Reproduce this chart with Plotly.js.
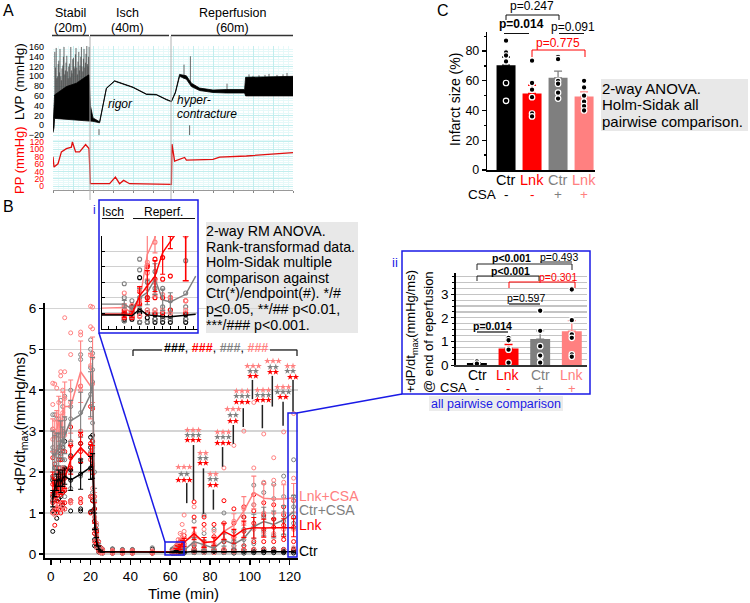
<!DOCTYPE html>
<html><head><meta charset="utf-8">
<script src="https://cdn.plot.ly/plotly-3.0.1.min.js"></script>
<style>html,body{margin:0;padding:0;background:#fff}#c{width:750px;height:603px}</style>
</head><body><div id="c"></div>
<script>
// ---------- Panel A ----------
const lvpT=[0,.5,.8,6.7,11.7,16.7,18,18.7,20,23.3,24,26.7,30.8,35,40,46.7,51.7,56.7,59.2,61.2,63.3,66.7,69.2,73.3,80,86.7,95.8,96.3,120];
const lvpLow=[-15,-5,14,12,10,9,9,9,8,5,20,75,90,84,77,63,62,52,48,66,100,94,79,71,67,66,66,60,60];
const lvpHigh=[-5,30,62,79,86,100,103,40,15,7,21,76,91,85,78,64,63,53,49,68,104,101,86,76,72,73,73,98,100];
const spikeT=[.9,1.3,1.6,1.9,2.2,2.6,2.9,3.2,3.5,3.9,4.2,4.5,4.9,5.2,5.5,5.9,6.2,6.5,6.9,7.2,7.6,7.9,8.2,8.6,8.9,9.2,9.5,9.9,10.2,10.5,10.9,11.2,11.5,11.9,12.2,12.5,12.9,13.2,13.5,13.9,14.2,14.5,14.9,15.2,15.5,15.9,16.2,16.5,16.9,17.2,17.5,17.8,18.1,65.5,68.7,87,98,100,103,106,108,112,115,117];
const spikeTop=[150,118,158,96,100,125,132,108,156,100,92,116,122,140,160,104,112,128,142,110,96,120,126,98,160,112,106,135,138,120,116,145,158,118,104,130,150,112,122,140,160,120,110,136,156,118,128,146,162,125,120,140,160,124,141,85,104,101,102,103,105,103,104,107];
const spikeBase=[60,60,60,60,60,60,60,60,60,60,60,60,60,60,60,60,60,60,60,60,60,60,60,60,60,60,60,60,60,60,60,60,60,60,60,60,60,60,60,60,60,60,60,60,60,60,60,60,60,60,60,60,60,95,85,70,90,90,90,90,90,90,90,90];
const dipT=[23,68.3];const dipLow=[-20,-20];const dipHigh=[-8,0];
const ppT=[0,.5,2.5,4.2,6.7,9.2,9.7,11.3,13.3,16.3,18,18.7,28.3,31.2,33.3,35.3,38.3,59.2,59.5,60.8,65.8,66.7,80,83.3,96.7,120];
const ppVal=[80,52,61,93,102,106,120,93,93,113,102,7,7,25,7,16,7,5,114,68,78,71,73,79,82,91];

// ---------- Panel B ----------
const T=[1,2,3,4,5,6,7,10,15,20,21,22,23,24,25,26,31,36,41,51,61,62,63,64,65,66,67,72,77,82,87,92,97,102,107,112,117,122];
const meanCtr=[1.35,1.6,1.75,1.85,1.75,1.85,1.9,1.8,1.95,2.1,2.15,.8,.3,.15,.07,.05,.05,.05,.05,.05,.04,.04,.06,.04,.04,.04,.04,.06,.05,.05,.05,.05,.05,.05,.06,.06,.05,.05];
const meanLnk=[1.75,1.6,1.6,1.75,1.7,1.8,1.85,2.3,2.6,2.35,2.3,1,.4,.15,.07,.05,.05,.05,.05,.05,.05,.05,.1,.14,.17,.25,.28,.5,.28,.3,.55,.43,.6,.64,.63,.64,.64,.64];
const meanCtrC=[2.45,2.4,2.5,2.55,2.8,2.7,2.9,3.25,3.4,3.9,4.2,1.3,.5,.2,.08,.05,.05,.05,.05,.05,.06,.06,.1,.12,.16,.09,.09,.3,.22,.14,.34,.24,.38,.67,.79,.72,.83,1.03];
const meanLnkC=[2.9,2.8,3,3.3,2.9,3.4,3.6,3.6,4.45,4.1,4.5,1.2,.5,.2,.08,.05,.05,.05,.05,.05,.05,.06,.09,.24,.3,.4,.3,.45,.28,.3,.55,.7,1.05,1.5,1.36,1.34,1.34,1.37];
const errCtr=[.2,.2,.2,.2,.25,.2,.2,.25,.37,.28,.3,.2,.1,.04,.02,.01,.01,.01,.01,.01,.01,.01,.02,.01,.01,.01,.01,.01,.01,.01,.01,.01,.01,.02,.02,.02,.02,.02];
const errLnk=[.25,.22,.2,.25,.25,.25,.25,.35,.37,.32,.35,.25,.12,.05,.02,.01,.01,.01,.01,.01,.01,.01,.03,.05,.06,.08,.1,.15,.12,.1,.2,.17,.2,.25,.22,.22,.22,.22];
const errCtrC=[.55,.5,.45,.4,.45,.4,.45,.5,.55,.55,.6,.3,.12,.05,.02,.01,.01,.01,.01,.01,.01,.02,.03,.03,.04,.03,.03,.1,.12,.06,.15,.1,.18,.3,.35,.33,.35,.4];
const errLnkC=[.4,.45,.5,.55,.5,.55,.6,.65,.75,.8,.8,.3,.12,.05,.02,.01,.01,.01,.01,.01,.01,.02,.03,.06,.08,.1,.1,.18,.12,.12,.2,.28,.35,.4,.35,.35,.35,.35];
const ptsCtr=[[1.8,1.4,1.3,1.05,.55],[2.1,1.85,1.5,1.3,1.0],[2.5,2.0,1.8,1.3,.87],[2.6,2.1,1.85,1.6,1.35],[2.45,2.0,1.7,1.4,1.15],[2.6,2.1,1.75,1.5,1.2],[2.75,2.1,1.9,1.55,1.1],[2.4,2.05,1.8,1.3,1.05],[2.7,2.25,1.95,1.1,1.05],[2.85,2.6,2.1,1.4,1.03],[2.9,2.75,2.15,1.3,1.05],[1.1,.8,.6,.35,.2],[.55,.35,.25,.2,.15],[.3,.15,.1,.05],[.15,.07,.03],[.1,.05,.02],[.12,.05,.02],[.1,.05,.02],[.1,.05,.02],[.12,.05,.02],[.1,.04,.02],[.09,.05,.02],[.12,.05,.02],[.1,.05,.02],[.09,.04,.02],[.08,.04,.02],[.08,.04,.02],[.12,.08,.05,.03],[.1,.06,.03],[.11,.05,.03],[.1,.06,.03],[.1,.05,.02],[.1,.05,.02],[.11,.06,.03],[.12,.07,.03],[.12,.07,.03],[.11,.06,.03],[.12,.07,.02]];
const ptsLnk=[[2.35,1.9,1.7,1.45,1.25,1.0],[2.2,1.75,1.55,1.3,1.1,.7],[2.1,1.7,1.55,1.3,1.1,1.0],[2.3,1.9,1.75,1.5,1.2,1.1],[2.3,1.8,1.6,1.45,1.25,1.0],[2.5,1.9,1.8,1.5,1.25,1.1],[2.5,2.0,1.85,1.55,1.25,1.1],[3.1,2.65,2.35,2.1,1.3,1.25],[4.1,2.9,2.7,2.5,1.35,1.25],[3.6,2.7,2.45,2.3,1.4,1.0],[3.55,2.75,2.4,2.2,1.4,1.3],[1.4,1.1,.8,.5,.3],[.6,.4,.3,.2],[.3,.15,.08],[.15,.07,.03],[.1,.05,.03],[.08,.05,.02],[.08,.05,.02],[.08,.05,.02],[.07,.04,.02],[.06,.05,.03],[.07,.05,.03],[.16,.1,.05],[.24,.14,.05],[.3,.18,.07],[.32,.2,.1],[.45,.25,.1],[1.27,.9,.45,.2,.1],[.9,.72,.3,.15],[.72,.42,.2,.08],[1.3,.75,.3,.1],[1.1,.75,.4,.1],[1.15,.9,.55,.2,.1],[1.45,1.05,.75,.3,.1],[1.25,.95,.6,.3,.1],[1.2,.85,.65,.3,.1],[1.15,.95,.7,.35,.1],[1.3,.9,.65,.3,.1]];
const ptsCtrC=[[3.4,3.05,2.6,2.5,1.85,1.3],[3.4,3.0,2.45,2.1,1.75,1.35],[3.3,2.9,2.4,2.0,1.8,1.5],[3.3,2.9,2.6,2.1,1.75,1.55],[3.75,2.95,2.8,2.3,2.0,1.55],[3.6,3.0,2.7,2.3,1.9,1.6],[3.85,3.3,2.95,2.3,1.9,1.4],[4.0,3.6,3.3,2.7,2.1,1.6],[4.87,4.75,3.45,3.0,2.3,1.9],[5.23,5.0,4.55,3.9,2.5,1.4],[4.9,4.5,4.2,3.2,2.6,1.5],[2.0,1.3,.9,.5,.3],[.7,.45,.3,.2],[.3,.18,.1],[.15,.08,.03],[.12,.06,.02],[.12,.05,.02],[.11,.05,.02],[.11,.05,.02],[.15,.05,.02],[.12,.05,.02],[.15,.06,.02],[.2,.1,.03],[.22,.12,.03],[.28,.15,.03],[.17,.09,.03],[.13,.08,.03],[.8,.4,.25,.1,.03],[.95,.5,.2,.08,.03],[.6,.2,.1,.03],[1.0,.75,.3,.08,.03],[.55,.3,.2,.08,.03],[.9,.6,.35,.1,.03],[1.68,1.2,.65,.25,.05],[1.73,1.5,.9,.55,.1],[1.7,1.35,.85,.45,.08],[1.9,1.4,.8,.45,.1],[2.3,1.4,1.15,.75,.1]];
const ptsLnkC=[[4.17,3.65,3.05,2.8,1.35,1.0],[4.15,3.0,2.45,1.75,1.2,.95],[4.05,3.4,2.5,1.8,1.4,1.15],[3.7,3.2,2.6,1.95,1.5,1.2],[4.45,4.35,3.0,2.1,1.55,1.1],[4.0,3.45,2.9,2.1,1.6,1.15],[5.77,4.45,3.8,2.9,1.6,1.1],[5.4,4.87,3.7,2.75,1.3,1.25],[5.42,5.35,4.1,4.0,3.0,1.3],[6.05,5.55,4.85,4.6,2.3,1.4],[6.03,5.5,4.8,4.15,2.6,1.6],[1.4,.9,.6,.3],[.75,.5,.3,.15],[.3,.15,.06],[.14,.07,.03],[.1,.05,.02],[.08,.05,.02],[.08,.05,.02],[.08,.05,.02],[.07,.05,.02],[.06,.05,.03],[.1,.06,.03],[.2,.1,.04],[.35,.25,.1],[.5,.32,.1],[.72,.4,.12],[.95,.55,.2,.08],[1.15,.5,.25,.1,.05],[.6,.25,.1,.04],[.55,.25,.1,.03],[2.1,.75,.35,.12,.05],[2.65,.8,.4,.2,.05],[3.0,1.1,.75,.4,.1],[3.7,2.1,1.2,.6,.12],[2.93,1.75,1.0,.5,.1],[2.35,1.8,1.0,.5,.1],[2.98,1.75,1.0,.6,.1],[3.43,1.85,1.3,.6,.15]];
const sigT=[68.3,71.7,76.7,81.7,86.3,91.7,96.7,101.3,106.3,111.3,116.7,121.7];
const sigLo=[1.24,1.32,.98,1.08,2.13,2.69,3.1,3.78,3.07,3.6,3.13,3.48];
const sigHi=[1.73,2.66,2.09,1.57,2.61,3.15,3.56,4.25,3.64,4.35,3.72,4.25];

// ---------- Inset i ----------
const iT=[58,61,62,63,64,65,66,67,69,70.3];
const iCtr=[.044,.044,.041,.063,.044,.041,.039,.038,.043,.046];
const iCtrC=[.079,.079,.063,.1,.117,.16,.093,.086,.111,.17];
const iLnk=[.046,.046,.046,.106,.138,.17,.246,.279,.35,.4];
const iLnkC=[.066,.068,.049,.09,.24,.295,.42,.5,.6,.7];
const iErrT=[61,62,63,64,65,66,67];
const iErrCtrC=[.012,.01,.03,.04,.05,.035,.03];
const iErrLnk=[.01,.01,.03,.05,.05,.07,.02];
const iErrLnkC=[.012,.01,.03,.08,.05,.08,.03];
const iLastT=[69];const iLastLnk=[.228];const iLastErr=[.073];
const iPtT=[61,62,63,64,65,66,67,69];
const iPtCtr=[[.025,.03,.045,.05],[.03,.04,.05,.07],[.02,.05,.06,.165],[.02,.035,.05],[.02,.03,.045],[.02,.03,.04],[.02,.03,.04],[.02,.03,.045]];
const iPtCtrC=[[.025,.05,.075,.1,.145],[.035,.05,.06,.09],[.02,.1,.19,.225],[.02,.06,.1,.15],[.03,.06,.13,.185],[.03,.07,.13],[.03,.06,.09],[.03,.07,.115,.22]];
const iPtLnk=[[.035,.05,.06],[.035,.05,.07],[.04,.08,.12],[.05,.1,.2,.205],[.05,.1,.16,.225],[.05,.1,.16,.23],[.06,.1,.17],[.05,.09]];
const iPtLnkC=[[.04,.07,.115],[.04,.055,.075],[.04,.09,.13],[.06,.13,.18,.215],[.06,.11,.15,.28],[.06,.11],[.05,.1],[.06,.09,.3]];

// ---------- Panel ii ----------
const iiVal=[.08,.7,1.1,1.43];
const iiErr=[.02,.17,.35,.45];
const iiPts=[[.05,.08,.1,.15,.06],[1.15,1.05,.7,.65,.1],[2.3,1.45,.8,.35,.1,.4],[3.2,1.9,1.3,1.15,.45,.35]];

// ---------- Panel C ----------
const cVal=[70.5,51.5,62,49.5];
const cErr=[5.5,5.5,4.5,3];
const cPts=[[87,79,77,73,58.5,46.5],[73.5,58.5,54,49,38,36],[76,74.5,60,58,52,48],[60,55.5,50,46,43,40]];

// ---------- Labels ----------
const groupNames=['Ctr','Lnk','Ctr','Lnk'];
const csaSigns=['-','-','+','+'];
const boxB=['2-way RM ANOVA.','Rank-transformad data.','Holm-Sidak multiple','comparison against','Ctr(*)/endpoint(#). */#','p<u>&lt;</u>0.05, **/## p&lt;0.01,','***/### p&lt;0.001.'];
const boxC=['2-way ANOVA.','Holm-Sidak all','pairwise comparison.'];

// ---------- Style & layout helpers ----------
const W=750,H=603,FONT='"Liberation Sans", Arial, sans-serif';
const BLK='#000000',RED='#ff0000',GRY='#7f7f7f',LRD='#ff8080',BLU='#1a1ae6';
const colors=[BLK,RED,GRY,LRD];
const xd=(a,b)=>[a/W,b/W], yd=(t,b)=>[1-b/H,1-t/H];
const ann=[],shp=[],tr=[];
function txt(x,y,text,o={}){ann.push({xref:'paper',yref:'paper',x:x/W,y:1-y/H,text:text,showarrow:false,borderpad:0,borderwidth:0,xanchor:o.anchor||'center',yanchor:'middle',textangle:o.angle||0,align:o.anchor||'center',font:{family:FONT,size:o.size||12,color:o.color||BLK}});}
function seg(x0,y0,x1,y1,color,w){shp.push({type:'line',xref:'paper',yref:'paper',x0:x0/W,y0:1-y0/H,x1:x1/W,y1:1-y1/H,line:{color:color||BLK,width:w||1}});}
function rect(x0,y0,x1,y1,line,fill,w,layer){shp.push({type:'rect',xref:'paper',yref:'paper',x0:x0/W,y0:1-y0/H,x1:x1/W,y1:1-y1/H,line:{color:line||'rgba(0,0,0,0)',width:line?(w||1):0},fillcolor:fill||'rgba(0,0,0,0)',layer:layer||'above'});}
function bracket(x0,x1,y,drop,color,w){seg(x0,y,x1,y,color,w);seg(x0,y,x0,y+drop,color,w);seg(x1,y,x1,y+drop,color,w);}
function flat(ts,lists){const x=[],y=[];ts.forEach((t,i)=>lists[i].forEach(v=>{x.push(t);y.push(v);}));return{x,y};}
function gaps(xs,lo,hi){const x=[],y=[];xs.forEach((t,i)=>{x.push(t,t,null);y.push(lo[i],hi[i],null);});return{x,y};}
const axisFont=(s,c)=>({family:FONT,size:s,color:c||BLK});

// Panel A traces
let g=gaps(spikeT,spikeBase,spikeTop);
tr.push({x:g.x,y:g.y,mode:'lines',line:{color:'#444',width:.8},connectgaps:false,xaxis:'x',yaxis:'y',hoverinfo:'skip'});
tr.push({x:lvpT,y:lvpLow,mode:'lines',line:{color:'#000',width:.8},xaxis:'x',yaxis:'y',hoverinfo:'skip'});
tr.push({x:lvpT,y:lvpHigh,mode:'lines',fill:'tonexty',fillcolor:'#000',line:{color:'#000',width:.8},xaxis:'x',yaxis:'y',hoverinfo:'skip'});
g=gaps(dipT,dipLow,dipHigh);
tr.push({x:g.x,y:g.y,mode:'lines',line:{color:'#666',width:1},connectgaps:false,xaxis:'x',yaxis:'y',hoverinfo:'skip'});
tr.push({x:ppT,y:ppVal,mode:'lines',line:{color:'#e01010',width:1.3},xaxis:'x2',yaxis:'y2',hoverinfo:'skip'});

// Panel B traces
const pts=[ptsCtr,ptsLnk,ptsCtrC,ptsLnkC],means=[meanCtr,meanLnk,meanCtrC,meanLnkC],errs=[errCtr,errLnk,errCtrC,errLnkC];
[0,2,1,3].forEach(k=>{const f=flat(T,pts[k]);tr.push({x:f.x,y:f.y,mode:'markers',marker:{symbol:'circle-open',size:4,color:colors[k],line:{width:1,color:colors[k]}},xaxis:'x3',yaxis:'y3',hoverinfo:'skip'});});
[3,2,1,0].forEach(k=>{tr.push({x:T,y:means[k],mode:'lines',line:{color:colors[k],width:1.5},error_y:{type:'data',array:errs[k],visible:true,color:colors[k],thickness:1.1,width:2.5},xaxis:'x3',yaxis:'y3',hoverinfo:'skip'});});
g=gaps(sigT,sigLo,sigHi);
tr.push({x:g.x,y:g.y,mode:'lines',line:{color:'#222',width:1.5},connectgaps:false,xaxis:'x3',yaxis:'y3',hoverinfo:'skip'});

// Inset traces
const iPts=[iPtCtr,iPtLnk,iPtCtrC,iPtLnkC],iErrs=[null,iErrLnk,iErrCtrC,iErrLnkC],iMeans=[iCtr,iLnk,iCtrC,iLnkC];
[0,2,1,3].forEach(k=>{const f=flat(iPtT,iPts[k]);tr.push({x:f.x,y:f.y,mode:'markers',marker:{symbol:'circle-open',size:4,color:colors[k],line:{width:1.1,color:colors[k]}},xaxis:'x4',yaxis:'y4',hoverinfo:'skip'});});
[3,2,1,0].forEach(k=>{
  tr.push({x:iT,y:iMeans[k],mode:'lines',line:{color:colors[k],width:1.4},xaxis:'x4',yaxis:'y4',hoverinfo:'skip'});
  if(iErrs[k]){tr.push({x:iErrT,y:iMeans[k].slice(1,8),mode:'markers',marker:{size:1,color:colors[k]},error_y:{type:'data',array:iErrs[k],visible:true,color:colors[k],thickness:1.2,width:2.5},xaxis:'x4',yaxis:'y4',hoverinfo:'skip'});}
});
tr.push({x:iLastT,y:iLastLnk,mode:'markers',marker:{size:1,color:RED},error_y:{type:'data',array:iLastErr,visible:true,color:RED,thickness:1.6,width:3},xaxis:'x4',yaxis:'y4',hoverinfo:'skip'});

// Bars ii and C
[[iiVal,iiErr,iiPts,'x5','y5',.63],[cVal,cErr,cPts,'x6','y6',.73]].forEach(([vals,er,ps,xa,ya,wd])=>{
  vals.forEach((v,i)=>{
    tr.push({type:'bar',x:[i],y:[v],width:wd,marker:{color:colors[i],line:{width:0}},error_y:{type:'data',symmetric:false,array:[er[i]],arrayminus:[0],visible:true,color:colors[i],thickness:1.3,width:4},xaxis:xa,yaxis:ya,hoverinfo:'skip'});
  });
  const f=flat([0,1,2,3],ps);
  tr.push({x:f.x,y:f.y,mode:'markers',marker:{size:5.5,color:'#000',line:{color:'#fff',width:1.2}},xaxis:xa,yaxis:ya,hoverinfo:'skip'});
});

// Panel A text
txt(3,10,'A',{size:16,anchor:'left'});
txt(70,13,'Stabil',{size:12.5});txt(70,28,'(20m)',{size:12.5});
txt(127,13,'Isch',{size:12.5});txt(127,28,'(40m)',{size:12.5});
txt(232,13,'Reperfusion',{size:12.5});txt(232,28,'(60m)',{size:12.5});
seg(52,35.5,89,35.5,'#333',1.5);seg(90,35.5,169,35.5,'#333',1.5);seg(171,35.5,293,35.5,'#333',1.5);
seg(90,36,90,200,'#b0b0b0',1);seg(171,36,171,200,'#b0b0b0',1);
txt(120,104,'<i>rigor</i>',{size:12});
txt(177,100,'<i>hyper-</i>',{size:12,anchor:'left'});
txt(177,114,'<i>contracture</i>',{size:12,anchor:'left'});
txt(19,82,'LVP (mmHg)',{size:13.5,angle:-90});
txt(19,160,'PP (mmHg)',{size:13,angle:-90,color:RED});

// Panel B text
txt(3,206,'B',{size:16,anchor:'left'});
txt(20,423,'+dP/dt<sub>max</sub>(mmHg/ms)',{size:15,angle:-90});
txt(183,593,'Time (min)',{size:15});
txt(299,496,'Lnk+CSA',{size:14,color:LRD,anchor:'left'});
txt(299,510,'Ctr+CSA',{size:14,color:GRY,anchor:'left'});
txt(299,525,'Lnk',{size:14,color:RED,anchor:'left'});
txt(299,551,'Ctr',{size:14,anchor:'left'});
seg(133,350,162,350,'#222',1.3);seg(133,350,133,356,'#222',1.3);
seg(270,350,297,350,'#222',1.3);seg(297,350,297,356,'#222',1.3);
txt(216,348,'<b>###</b>, <span style="color:#ff0000"><b>###</b></span>, <span style="color:#7f7f7f"><b>###</b></span>, <span style="color:#ff8080"><b>###</b></span>',{size:12.5});

// significance stars, placed on the main panel's axes: [x, y light-red, y gray, y red, n light-red, n gray, n red]
const stars=[[184,467,474,480,3,2,3],[193,430,435,440,3,3,3],[203,453,458,463,2,2,2],[213,474,479,485,2,2,2],[223,432,437,443,3,3,3],[233,409,415,421,3,2,2],[242,391,396,402,3,3,3],[253,366,371,376,3,2,2],[263,390,395,400,3,3,3],[273,361,367,372,3,2,2],[283,387,392,397,3,3,2],[293,366,371,377,3,3,2]];
const mainX=[-2.9,124.2],mainY=[-.1,6.13],mainBox=[45,298,303,558];
const toT=p=>mainX[0]+(p-mainBox[0])/(mainBox[1]-mainBox[0])*(mainX[1]-mainX[0]);
const toV=p=>mainY[0]+(mainBox[3]-p)/(mainBox[3]-mainBox[2])*(mainY[1]-mainY[0]);
const starX={[LRD]:[],[GRY]:[],[RED]:[]},starY={[LRD]:[],[GRY]:[],[RED]:[]};
function starRow(x,y,n,c){for(let i=0;i<n;i++){starX[c].push(toT(x+(i-(n-1)/2)*5.6));starY[c].push(toV(y));}}
stars.forEach(s=>{starRow(s[0],s[1],s[4],LRD);starRow(s[0],s[2],s[5],GRY);starRow(s[0],s[3],s[6],RED);});
starRow(147,223,3,GRY);starRow(147,229,3,LRD);starRow(147,234,3,RED);
starRow(123,260,2,LRD);starRow(123,265.5,2,GRY);
[LRD,GRY,RED].forEach(c=>tr.push({x:starX[c],y:starY[c],mode:'markers',cliponaxis:false,marker:{symbol:'star',size:5,color:c,line:{width:0}},xaxis:'x3',yaxis:'y3',hoverinfo:'skip'}));

// Blue inset frames
rect(99,200,198,333,BLU,null,1.5);
rect(165,542,184,555,BLU,null,1.5);
seg(99,333,165,542,BLU,1.5);
rect(288,413,297,557,BLU,null,1.5);
seg(297,413,402,394,BLU,1.5);
txt(94,210,'i',{size:12,color:BLU});
txt(113,212,'Isch',{size:12});seg(102,218.5,124,218.5,'#111',1);
txt(163,212,'Reperf.',{size:12});seg(133,218.5,195,218.5,'#111',1);

// Gray text boxes
rect(206,222,358,333,null,'#e8e8e8',0,'below');
boxB.forEach((s,i)=>txt(206,231+i*15.6,s,{size:14.2,anchor:'left'}));
rect(601,79,748,131,null,'#e8e8e8',0,'below');
boxC.forEach((s,i)=>txt(602,88+i*17,s,{size:15,anchor:'left'}));

// Panel ii text
rect(402,251,590,394,BLU,null,1.5);
txt(395,262,'ii',{size:13,color:BLU});
txt(511.5,258,'<b>p&lt;0.001</b>',{size:10.5});
txt(559,257,'p=0.493',{size:10.5});
seg(540,262,572,262,'#222',1);
bracket(477,572,264,6,'#222',1);
txt(510,271,'<b>p&lt;0.001</b>',{size:10.5});
bracket(477,539,276,5,'#222',1);
txt(558,277,'p=0.301',{size:10.5,color:RED});
bracket(509,575,282,6,RED,1);
txt(526,298,'p=0.597',{size:10.5});seg(509,304,540,304,'#222',1.3);
txt(492.7,326,'<b>p=0.014</b>',{size:10.5});seg(477,332,508,332,'#222',1.3);
txt(411,332,'+dP/dt<sub>max</sub>(mmHg/ms)',{size:13,angle:-90});
txt(428,332,'@ end of reperfusion',{size:13,angle:-90});
txt(453,387,'CSA',{size:13});
[477,508,540,572].forEach((x,i)=>{txt(x,375,groupNames[i],{size:14,color:colors[i]});txt(x,388,csaSigns[i],{size:13,color:colors[i]});});
rect(429,396,563,411,null,'#ececec',0,'below');
txt(496,403.5,'all pairwise comparison',{size:12.5,color:BLU});

// Panel C text
txt(437,10,'C',{size:16,anchor:'left'});
txt(532,5.5,'p=0.247',{size:12});
bracket(506,559,15,5,'#111',1);
txt(521,24,'<b>p=0.014</b>',{size:12});seg(504,33.5,529,33.5,'#111',1);
txt(573,27,'p=0.091',{size:12});seg(559,33.5,584,33.5,'#111',1);
txt(558,43,'p=0.775',{size:12,color:RED});
bracket(532,585,50,7,RED,1);
txt(455,100,'Infarct size (%)',{size:14,angle:-90});
txt(481.5,195,'CSA',{size:13.5});
[506,532,558,584].forEach((x,i)=>{txt(x,180,groupNames[i],{size:14.5,color:colors[i]});txt(x,195,csaSigns[i],{size:13.5,color:colors[i]});});

const CY='#c2eeee',CY2='#e6f9f9';
const layout={
  width:W,height:H,margin:{l:0,r:0,t:0,b:0,pad:0},paper_bgcolor:'#fff',plot_bgcolor:'#fff',showlegend:false,barmode:'overlay',autosize:false,
  font:{family:FONT,color:BLK},annotations:ann,shapes:shp,
  // A: LVP
  xaxis:{domain:xd(53,293),range:[0,120],anchor:'y',showticklabels:false,ticks:'',showgrid:true,gridcolor:CY,gridwidth:1,dtick:10,minor:{dtick:2.5,showgrid:true,gridcolor:CY2,gridwidth:1},zeroline:false,showline:false},
  yaxis:{domain:yd(46,137),range:[-24,162],anchor:'x',tickvals:[-20,0,20,40,60,80,100,120,140,160],ticks:'',tickfont:axisFont(9),ticklabelstandoff:8,showgrid:true,gridcolor:CY,gridwidth:1,minor:{dtick:5,showgrid:true,gridcolor:CY2,gridwidth:1},zeroline:false,showline:false},
  // A: PP
  xaxis2:{domain:xd(53,293),range:[0,120],anchor:'y2',showticklabels:false,ticks:'outside',ticklen:2,tickcolor:'#888',tickwidth:1,dtick:10,showgrid:true,gridcolor:CY,minor:{dtick:2.5,showgrid:true,gridcolor:CY2,gridwidth:1},zeroline:false,showline:true,linecolor:'#999',linewidth:1},
  yaxis2:{domain:yd(139,190),range:[-10,128],anchor:'x2',tickvals:[0,20,40,60,80,100,120],ticks:'',tickfont:axisFont(8.5,RED),ticklabelstandoff:8,showgrid:true,gridcolor:CY,minor:{dtick:5,showgrid:true,gridcolor:CY2,gridwidth:1},zeroline:false,showline:false},
  // B main
  xaxis3:{domain:xd(45,298),range:mainX,anchor:'y3',tickvals:[0,20,40,60,80,100,120],ticks:'outside',ticklen:5,tickwidth:1.5,tickcolor:BLK,tickfont:axisFont(13.5),showgrid:false,zeroline:false,showline:true,linecolor:BLK,linewidth:2,minor:{dtick:5,ticks:'outside',ticklen:3,tickcolor:BLK,tickwidth:1}},
  yaxis3:{domain:yd(303,558),range:mainY,anchor:'x3',tickvals:[0,1,2,3,4,5,6],ticks:'outside',ticklen:4,tickwidth:1.5,tickcolor:BLK,tickfont:axisFont(13.5),showgrid:true,gridcolor:'#d4d4d4',gridwidth:1.5,zeroline:false,showline:true,linecolor:BLK,linewidth:2},
  // Inset
  xaxis4:{domain:xd(102,198),range:[58.1,70.6],anchor:'y4',showticklabels:false,tickmode:'linear',tick0:58,dtick:1,ticks:'inside',ticklen:3,tickcolor:BLK,showgrid:false,zeroline:false,showline:true,linecolor:BLK,linewidth:1.5},
  yaxis4:{domain:yd(236,328.5),range:[0,.3],anchor:'x4',showticklabels:false,tickvals:[0,.05,.1,.15,.2,.25,.3],ticks:'inside',ticklen:3,tickcolor:BLK,showgrid:true,gridcolor:'#d0d0d0',gridwidth:1.2,zeroline:false,showline:true,linecolor:BLK,linewidth:1.5},
  // ii
  xaxis5:{domain:xd(455.7,587),range:[-.67,3.48],anchor:'y5',showticklabels:false,ticks:'',showgrid:false,zeroline:false,showline:true,linecolor:'#333',linewidth:1.5,tickvals:[0,1,2,3]},
  yaxis5:{domain:yd(273,365),range:[0,3.9],anchor:'x5',tickvals:[0,1,2,3],ticks:'outside',ticklen:3,tickcolor:BLK,tickfont:axisFont(13.5),showgrid:true,gridcolor:'#c4c4c4',gridwidth:1.2,zeroline:false,showline:true,linecolor:BLK,linewidth:1.5,minor:{dtick:.25,showgrid:true,gridcolor:'#c4c4c4',gridwidth:1.2,ticks:'outside',ticklen:2,tickcolor:BLK}},
  // C
  xaxis6:{domain:xd(487.3,595),range:[-.72,3.42],anchor:'y6',showticklabels:false,ticks:'',showgrid:false,zeroline:false,showline:true,linecolor:BLK,linewidth:1.5,tickvals:[0,1,2,3]},
  yaxis6:{domain:yd(32,170),range:[0,92.8],anchor:'x6',tickvals:[0,20,40,60,80],ticks:'outside',ticklen:4,tickcolor:BLK,tickwidth:1.3,tickfont:axisFont(12.5),showgrid:false,zeroline:false,showline:true,linecolor:BLK,linewidth:1.5,minor:{dtick:10,ticks:'outside',ticklen:2,tickcolor:BLK}}
};
Plotly.newPlot('c',tr,layout,{staticPlot:true,displayModeBar:false});
</script></body></html>
